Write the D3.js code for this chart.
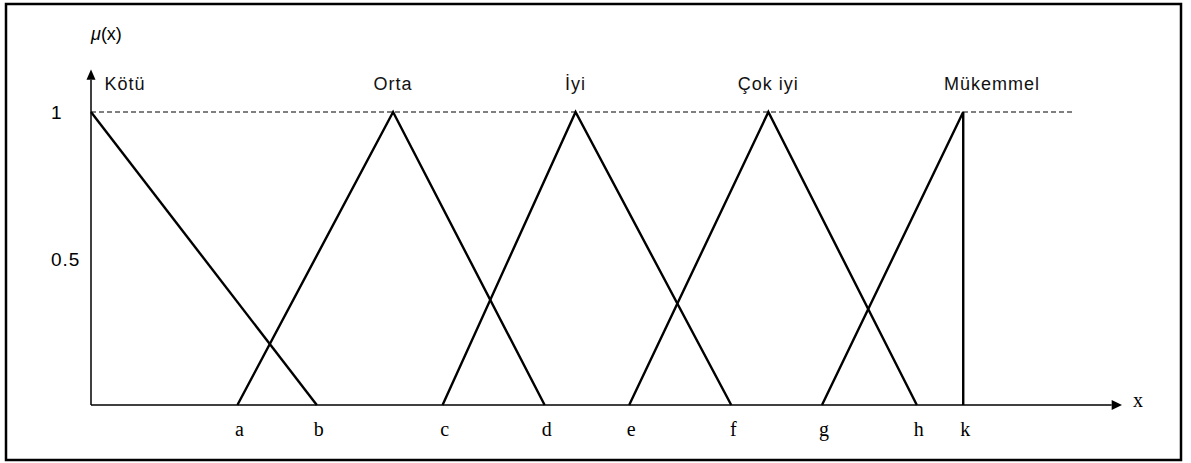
<!DOCTYPE html>
<html>
<head>
<meta charset="utf-8">
<script src="https://cdn.jsdelivr.net/npm/d3@7"></script>
<style>
  body { margin: 0; background: #fff; }
  svg { display: block; }
</style>
</head>
<body>
<div id="chart"></div>
<script>
// membership functions, x in abstract units (0..100), y = mu
const setNames = ["Kötü", "Orta", "İyi", "Çok iyi", "Mükemmel"];
const setPoints = [
  [[0, 1], [21.9, 0]],
  [[14.2, 0], [29.3, 1], [44.0, 0]],
  [[34.1, 0], [47.0, 1], [62.1, 0]],
  [[52.2, 0], [65.7, 1], [80.1, 0]],
  [[70.9, 0], [84.6, 1], [84.6, 0]]
];
const labelX = [1.3, 29.3, 47.0, 65.7, 87.4];
const tickNames = ["a", "b", "c", "d", "e", "f", "g", "h", "k"];
const tickValues = [14.2, 21.9, 34.1, 44.0, 52.2, 62.1, 70.9, 80.1, 84.6];
const yTicks = [1, 0.5];
const dashEnd = 95.4;

const width = 1191, height = 463;
const svg = d3.select("#chart").append("svg")
  .attr("width", width).attr("height", height);

// outer frame
svg.append("rect")
  .attr("x", 6).attr("y", 4)
  .attr("width", 1175).attr("height", 456)
  .attr("fill", "none").attr("stroke", "#000").attr("stroke-width", 2.5);

const x = d3.scaleLinear().domain([0, 100]).range([91, 1122]);
const y = d3.scaleLinear().domain([0, 1]).range([405, 112]);

// axes
svg.append("line")
  .attr("x1", x(0)).attr("x2", x(0))
  .attr("y1", y(0)).attr("y2", y(1.11))
  .attr("stroke", "#000").attr("stroke-width", 1.5);
svg.append("path")
  .attr("d", `M${x(0) - 4.5},${y(1.11)} L${x(0)},${y(1.145)} L${x(0) + 4.5},${y(1.11)} Z`)
  .attr("fill", "#000");

svg.append("line")
  .attr("x1", x(0)).attr("x2", x(99))
  .attr("y1", y(0)).attr("y2", y(0))
  .attr("stroke", "#000").attr("stroke-width", 1.5);
svg.append("path")
  .attr("d", `M${x(99)},${y(0) - 5} L${x(100)},${y(0)} L${x(99)},${y(0) + 5} Z`)
  .attr("fill", "#000");

// dashed line at mu = 1
svg.append("line")
  .attr("x1", x(0)).attr("x2", x(dashEnd))
  .attr("y1", y(1)).attr("y2", y(1))
  .attr("stroke", "#000").attr("stroke-width", 1)
  .attr("stroke-dasharray", "5,3");

// membership lines
const line = d3.line().x(d => x(d[0])).y(d => y(d[1]));
svg.selectAll(".mf").data(setPoints).join("path")
  .attr("class", "mf")
  .attr("d", line)
  .attr("fill", "none")
  .attr("stroke", "#000")
  .attr("stroke-width", 2.4)
  .attr("stroke-linejoin", "miter");

// set names
svg.selectAll(".setname").data(setNames).join("text")
  .attr("class", "setname")
  .attr("x", (d, i) => x(labelX[i]))
  .attr("y", 90)
  .attr("text-anchor", (d, i) => i === 0 ? "start" : "middle")
  .attr("font-family", "Liberation Sans, Arial, sans-serif")
  .attr("font-size", 18)
  .attr("letter-spacing", 1)
  .attr("fill", "#111")
  .text(d => d);

// x tick letters
svg.selectAll(".tick").data(tickNames).join("text")
  .attr("class", "tick")
  .attr("x", (d, i) => x(tickValues[i]) + 2)
  .attr("y", 436)
  .attr("text-anchor", "middle")
  .attr("font-family", "Liberation Serif, Times New Roman, serif")
  .attr("font-size", 20)
  .text(d => d);

svg.append("text")
  .attr("x", x(100) + 11).attr("y", 407)
  .attr("font-family", "Liberation Serif, Times New Roman, serif")
  .attr("font-size", 20)
  .text("x");

// y labels
svg.selectAll(".ytick").data(yTicks).join("text")
  .attr("class", "ytick")
  .attr("x", 51)
  .attr("y", d => y(d) + 7)
  .attr("text-anchor", "start")
  .attr("font-family", "Liberation Sans, Arial, sans-serif")
  .attr("font-size", 19)
  .attr("letter-spacing", 1)
  .text(d => d === 1 ? "1" : d);

svg.append("text")
  .attr("x", 91).attr("y", 40)
  .attr("font-family", "Liberation Sans, Arial, sans-serif")
  .attr("font-size", 18)
  .html('<tspan font-style="italic">μ</tspan>(x)');
</script>
</body>
</html>
